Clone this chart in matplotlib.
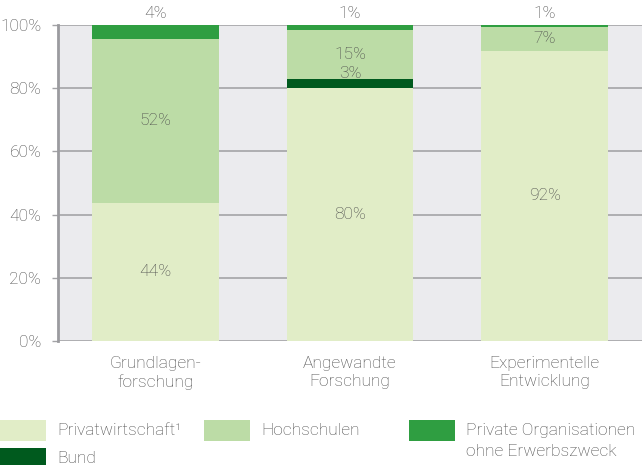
import matplotlib.pyplot as plt
from matplotlib.patches import Rectangle
import numpy as np

plt.rcParams['font.family'] = ['Roboto', 'DejaVu Sans']

kategorien = ['Grundlagen-\nforschung', 'Angewandte\nForschung', 'Experimentelle\nEntwicklung']

privatwirtschaft = [43.7, 80.1, 91.8]
bund = [0.0, 2.8, 0.0]
hochschulen = [51.9, 15.5, 7.6]
private_org = [4.4, 1.6, 0.6]

lab_privatwirtschaft = ['44%', '80%', '92%']
lab_bund = ['', '3%', '']
lab_hochschulen = ['52%', '15%', '7%']
lab_private_org = ['4%', '1%', '1%']

farben = {
    'Privatwirtschaft': '#e1edc7',
    'Bund': '#005a1e',
    'Hochschulen': '#bcdca6',
    'Private Organisationen': '#2f9e41',
}
txt_col = '#4a4a4a'
grid_col = '#a3a3a6'
fs = 12.5

W, H = 642, 465
fig = plt.figure(figsize=(W / 100, H / 100), dpi=100)
ax = fig.add_axes([58 / W, 1 - 341 / H, 1 - 58 / W, (341 - 25) / H])
ax.set_facecolor('#ebebee')

x = np.arange(len(kategorien))
bw = 0.65

ax.bar(x, privatwirtschaft, bw, color=farben['Privatwirtschaft'], zorder=3)
bottom = np.array(privatwirtschaft)
ax.bar(x, bund, bw, bottom=bottom, color=farben['Bund'], zorder=3)
bottom = bottom + np.array(bund)
ax.bar(x, hochschulen, bw, bottom=bottom, color=farben['Hochschulen'], zorder=3)
bottom = bottom + np.array(hochschulen)
ax.bar(x, private_org, bw, bottom=bottom, color=farben['Private Organisationen'], zorder=3)

# labels in the segments
for i in range(len(x)):
    p = privatwirtschaft[i]
    ax.text(x[i], p / 2, lab_privatwirtschaft[i], ha='center', va='center',
            fontsize=fs, color=txt_col, fontweight='light', zorder=4)
    h0 = p + bund[i]
    ax.text(x[i], h0 + hochschulen[i] / 2, lab_hochschulen[i], ha='center', va='center',
            fontsize=fs, color=txt_col, fontweight='light', zorder=4)
    if lab_bund[i]:
        ax.annotate(lab_bund[i], (x[i], h0), xytext=(0, 1), textcoords='offset points',
                    ha='center', va='baseline', fontsize=fs, color=txt_col,
                    fontweight='light', zorder=4)
    top = h0 + hochschulen[i] + private_org[i]
    ax.annotate(lab_private_org[i], (x[i], top), xytext=(0, 5), textcoords='offset points',
                ha='center', va='baseline', fontsize=fs, color=txt_col,
                fontweight='light', annotation_clip=False)

ax.set_xlim(-0.5, 2.5)
ax.set_ylim(0, 100)
ax.set_yticks([0, 20, 40, 60, 80, 100])
ax.set_yticklabels(['0%', '20%', '40%', '60%', '80%', '100%'])
ax.set_xticks(x)
ax.set_xticklabels(kategorien)
for lbl in ax.get_xticklabels():
    lbl.set_linespacing(1.3)
ax.tick_params(axis='x', length=0, pad=10.5, labelsize=fs, labelcolor=txt_col)
ax.tick_params(axis='y', length=4, width=1, color=grid_col, pad=8, labelsize=fs,
               labelcolor=txt_col)
for lbl in ax.get_xticklabels() + ax.get_yticklabels():
    lbl.set_fontweight('light')

ax.yaxis.grid(True, color=grid_col, linewidth=1.2, zorder=1)
ax.set_axisbelow(True)
for s in ['top', 'right', 'bottom']:
    ax.spines[s].set_visible(False)
ax.spines['left'].set_color('#9b9b9f')
ax.spines['left'].set_linewidth(2)
ax.spines['left'].set_zorder(5)

# legend, drawn by hand (three columns, uneven widths)
legende = [
    ('Privatwirtschaft', 'Privatwirtschaft¹', 0, 420),
    ('Bund', 'Bund', 0, 448),
    ('Hochschulen', 'Hochschulen', 204, 420),
    ('Private Organisationen', 'Private Organisationen\nohne Erwerbszweck', 409, 420),
]
pw, ph = 46, 21
for key, text, lx, ly in legende:
    fig.add_artist(Rectangle((lx / W, 1 - (ly + ph) / H), pw / W, ph / H,
                             transform=fig.transFigure, color=farben[key], lw=0))
    zeilen = text.split('\n')
    for k, z in enumerate(zeilen):
        fig.text((lx + pw + 11) / W, 1 - (ly + ph / 2 + 21 * k) / H, z,
                 ha='left', va='center', fontsize=fs, color=txt_col, fontweight='light')

fig.savefig('out.png', dpi=100)
